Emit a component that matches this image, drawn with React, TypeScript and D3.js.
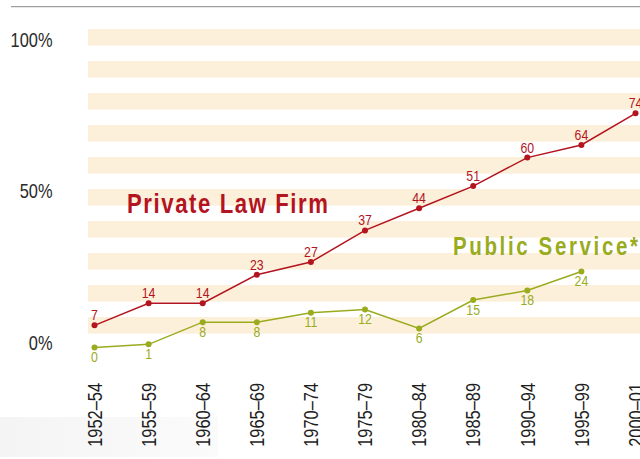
import React from "react";
import * as d3 from "d3";

const periods = ["1952–54", "1955–59", "1960–64", "1965–69", "1970–74", "1975–79", "1980–84", "1985–89", "1990–94", "1995–99", "2000–01"];
const privateLawFirm = [7, 14, 14, 23, 27, 37, 44, 51, 60, 64, 74];
const publicService = [0, 1, 8, 8, 11, 12, 6, 15, 18, 24];
const yTicks = [0, 50, 100];
const stripeIndex = d3.range(10);

const W = 640;
const H = 459;
const RED = "#b3141f";
const GREEN = "#9aab1e";
const STRIPE = "#fcf0da";
const FONT = "'Liberation Sans', Arial, Helvetica, sans-serif";
const SQ = 0.82; // horizontal condensing to mimic a narrow face

type TProps = {
  x: number;
  y: number;
  rotate?: number;
  anchor?: "start" | "middle" | "end";
  size: number;
  fill: string;
  weight?: string;
  dy?: string;
  textLength?: number;
  children: React.ReactNode;
};

function T({ x, y, rotate = 0, anchor = "start", size, fill, weight, dy, textLength, children }: TProps) {
  return (
    <g transform={`translate(${x},${y}) rotate(${rotate}) scale(${SQ},1)`}>
      <text
        x={0}
        y={0}
        dy={dy}
        textAnchor={anchor}
        fontSize={size}
        fill={fill}
        fontWeight={weight}
        textLength={textLength ? textLength / SQ : undefined}
        lengthAdjust={textLength ? "spacing" : undefined}
      >
        {children}
      </text>
    </g>
  );
}

export default function App() {
  const plotLeft = 88;
  const x = d3.scalePoint<string>().domain(periods).range([94.5, 635.5]);
  const y = d3.scaleLinear().domain([0, 100]).range([347.5, 31]);
  const yLabel = d3.scaleLinear().domain([0, 100]).range([343, 39.5]);
  const stripeY = d3.scaleLinear().domain([0, 10]).range([29, 349]);

  const px = (i: number) => Math.max(x(periods[i]) as number, plotLeft);

  const line = d3
    .line<number>()
    .x((_, i) => px(i))
    .y((d) => y(d));

  return (
    <svg width={W} height={H} style={{ position: "absolute", left: 0, top: 0, background: "#fff" }} fontFamily={FONT}>
      <defs>
        <linearGradient id="bottomGrad" x1="0" x2="1" y1="0" y2="0">
          <stop offset="0%" stopColor="#f4f4f4" />
          <stop offset="100%" stopColor="#fbfbfb" />
        </linearGradient>
      </defs>
      <rect x={0} y={417} width={218} height={40} fill="url(#bottomGrad)" />
      <line x1={11} x2={W} y1={6.7} y2={6.7} stroke="#a0a0a0" strokeWidth={1.2} />

      {stripeIndex.map((i) => (
        <rect key={i} x={plotLeft} y={stripeY(i)} width={W - plotLeft} height={16.6} fill={STRIPE} />
      ))}

      {yTicks.map((t) => (
        <T key={t} x={52.5} y={yLabel(t)} dy="0.36em" anchor="end" size={20} fill="#2a2a2a">
          {t}%
        </T>
      ))}

      {periods.map((p) => (
        <T key={p} x={x(p) as number} y={383} rotate={-90} dy="0.36em" anchor="end" size={20} fill="#1e1e1e">
          {p}
        </T>
      ))}

      <path d={line(publicService) || ""} fill="none" stroke={GREEN} strokeWidth={1.5} />
      <path d={line(privateLawFirm) || ""} fill="none" stroke={RED} strokeWidth={1.5} />

      {publicService.map((v, i) => (
        <g key={"g" + i}>
          <circle cx={px(i)} cy={y(v)} r={3} fill={GREEN} />
          <T x={x(periods[i]) as number} y={y(v) + 14.5} anchor="middle" size={15} fill={GREEN}>
            {v}
          </T>
        </g>
      ))}
      {privateLawFirm.map((v, i) => (
        <g key={"r" + i}>
          <circle cx={px(i)} cy={y(v)} r={3} fill={RED} />
          <T x={x(periods[i]) as number} y={y(v) - 5} anchor="middle" size={15} fill={RED}>
            {v}
          </T>
        </g>
      ))}

      <T x={127} y={212.5} size={27} weight="bold" fill={RED} textLength={201}>
        Private Law Firm
      </T>
      <T x={453} y={255} size={25} weight="bold" fill={GREEN} textLength={185}>
        Public Service*
      </T>
    </svg>
  );
}
